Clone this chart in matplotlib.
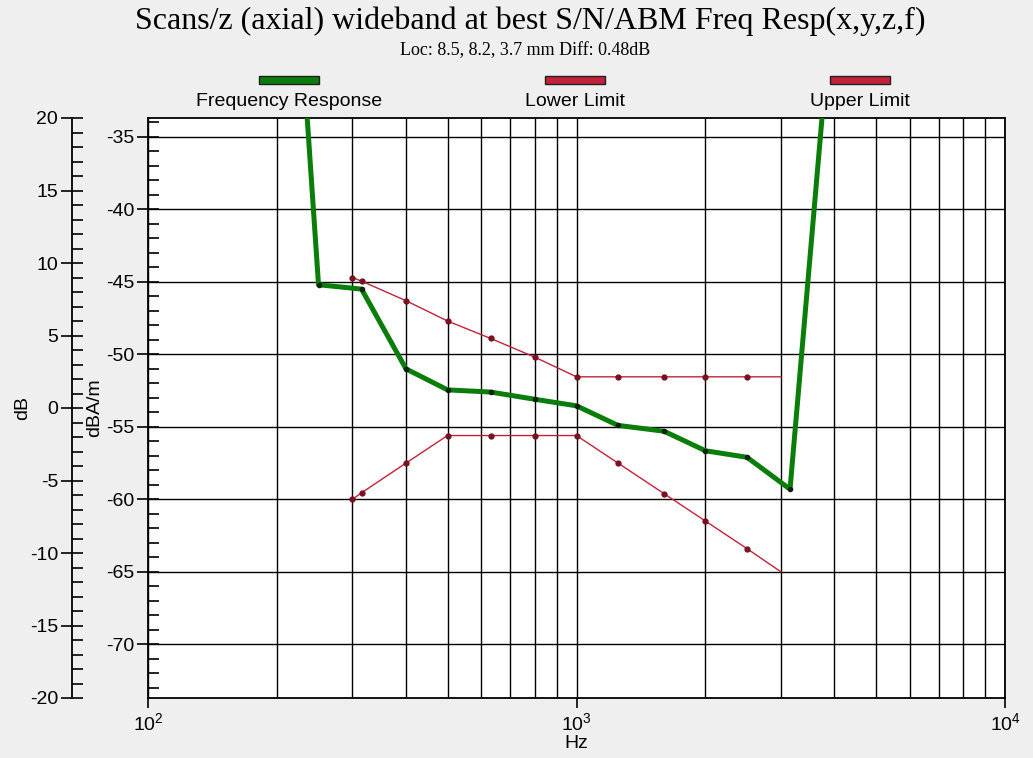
import matplotlib
matplotlib.use('Agg')
import matplotlib.pyplot as plt
from matplotlib.patches import Rectangle
from matplotlib.ticker import MultipleLocator, LogLocator, LogFormatterMathtext, NullFormatter

plt.rcParams['font.family'] = ['Liberation Sans', 'DejaVu Sans']
plt.rcParams['mathtext.default'] = 'regular'
plt.rcParams['axes.unicode_minus'] = False

# Data
resp_hz = [200, 250, 315, 400, 500, 630, 800, 1000, 1250, 1600, 2000, 2500, 3150, 4000]
resp_dba = [-3.0, -45.2, -45.5, -51.0, -52.45, -52.6, -53.1, -53.55, -54.9, -55.3,
            -56.65, -57.1, -59.3, -23.7]

limit_hz = [300, 315, 400, 500, 630, 800, 1000, 1250, 1600, 2000, 2500, 3000]
lower_dba = [-60.0, -59.55, -57.5, -55.6, -55.6, -55.6, -55.6, -57.5, -59.6, -61.5,
             -63.4, -65.0]
upper_dba = [-44.7, -44.95, -46.3, -47.7, -48.9, -50.2, -51.55, -51.55, -51.55,
             -51.55, -51.55, -51.55]

legend_labels = ['Frequency Response', 'Lower Limit', 'Upper Limit']

W, H = 1033, 758
green = '#0a7d0a'
red = '#c4213a'
dot_red = '#7a1020'


def fx(px):
    return px / W


def fy(py):
    return 1 - py / H


fig = plt.figure(figsize=(W / 100, H / 100), dpi=100, facecolor='#efefef')
ax = fig.add_axes([fx(148), fy(698), fx(1005) - fx(148), fy(118) - fy(698)])
ax.set_facecolor('white')

ax.plot(limit_hz, lower_dba, color=red, lw=1.0, marker='o', ms=3.5,
        mfc=dot_red, mec=dot_red, markevery=list(range(len(limit_hz) - 1)), zorder=3)
ax.plot(limit_hz, upper_dba, color=red, lw=1.0, marker='o', ms=3.5,
        mfc=dot_red, mec=dot_red, markevery=list(range(len(limit_hz) - 1)), zorder=3)
ax.plot(resp_hz, resp_dba, color=green, lw=3.6, marker='o', ms=3,
        mfc='#102010', mec='#102010', zorder=4)

ax.set_xscale('log')
ax.set_xlim(100, 10000)
ax.set_ylim(-73.7, -33.7)
ax.xaxis.set_major_locator(LogLocator(base=10))
ax.xaxis.set_major_formatter(LogFormatterMathtext())
ax.xaxis.set_minor_locator(LogLocator(base=10, subs=range(2, 10)))
ax.xaxis.set_minor_formatter(NullFormatter())
ax.yaxis.set_major_locator(MultipleLocator(5))
ax.yaxis.set_minor_locator(MultipleLocator(1))

ax.set_axisbelow(True)
ax.grid(True, which='both', axis='x', color='black', lw=1.0)
ax.grid(True, which='major', axis='y', color='black', lw=1.0)

ax.tick_params(axis='x', which='major', direction='out', length=7, width=1.2,
               labelsize=14, pad=3)
ax.tick_params(axis='x', which='minor', length=0)
ax.tick_params(axis='y', which='major', direction='inout', length=16, width=1.2,
               labelsize=14, pad=2)
ax.tick_params(axis='y', which='minor', direction='in', length=8, width=1.2)
for s in ax.spines.values():
    s.set_linewidth(1.3)

ax.set_xlabel('Hz', fontsize=14, labelpad=1)
ax.set_ylabel('dBA/m', fontsize=14)
ax.yaxis.set_label_coords((103 - 148) / (1005 - 148), 0.5)

# second (dB) axis on the far left
ax2 = ax.twinx()
ax2.set_ylim(-20, 20)
ax2.yaxis.set_ticks_position('left')
ax2.yaxis.set_label_position('left')
ax2.spines['left'].set_position(('axes', (72 - 148) / (1005 - 148)))
ax2.spines['left'].set_linewidth(1.3)
for side in ['right', 'top', 'bottom']:
    ax2.spines[side].set_visible(False)
ax2.yaxis.set_major_locator(MultipleLocator(5))
ax2.yaxis.set_minor_locator(MultipleLocator(1))
ax2.tick_params(axis='y', which='major', direction='inout', length=16, width=1.2,
                labelsize=14, pad=2)
ax2.tick_params(axis='y', which='minor', direction='in', length=8, width=1.2)
ax2.set_ylabel('dB', fontsize=14)
ax2.yaxis.set_label_coords((31 - 148) / (1005 - 148), 0.5)

# titles
fig.text(fx(530), fy(21), 'Scans/z (axial) wideband at best S/N/ABM Freq Resp(x,y,z,f)',
         family='Liberation Serif', fontsize=23, ha='center', va='center')
fig.text(fx(525), fy(51), 'Loc: 8.5, 8.2, 3.7 mm Diff: 0.48dB',
         family='Liberation Serif', fontsize=13, ha='center', va='center')

# legend: colored bars above labels
legend_x = [289, 575, 860]
legend_colors = [green, red, red]
for cx, lab, col in zip(legend_x, legend_labels, legend_colors):
    fig.patches.append(Rectangle((fx(cx - 30), fy(84)), fx(60), fy(76) - fy(84),
                                 transform=fig.transFigure, facecolor=col,
                                 edgecolor='#202020', lw=1.0))
    fig.text(fx(cx), fy(101), lab, fontsize=14, ha='center', va='center')

fig.savefig('out.png', dpi=100, facecolor=fig.get_facecolor())
